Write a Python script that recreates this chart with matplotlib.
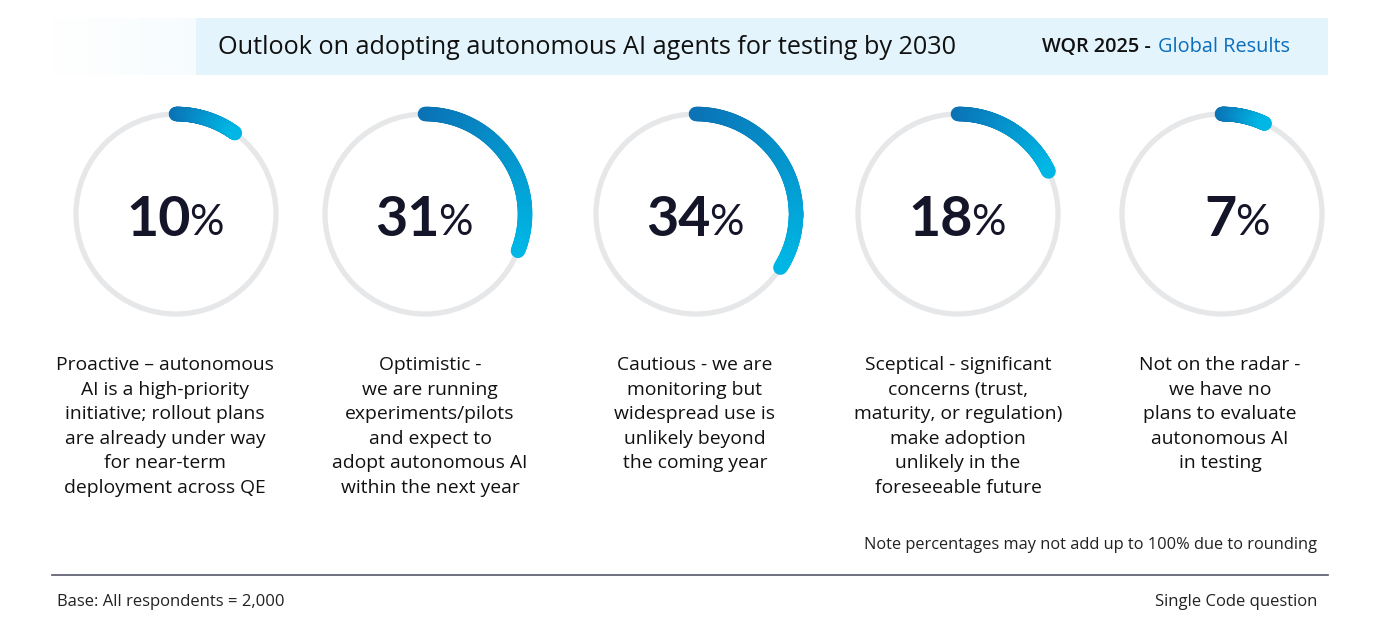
import matplotlib
matplotlib.use("Agg")
import matplotlib.pyplot as plt
import numpy as np
from matplotlib.collections import LineCollection
from matplotlib.colors import LinearSegmentedColormap
from matplotlib.patches import Circle, Rectangle

W, H = 1392, 633

VALUES = [10, 31, 34, 18, 7]
LABELS = [
    "Proactive \u2013 autonomous\nAI is a high-priority\ninitiative; rollout plans\nare already under way\nfor near-term\ndeployment across QE",
    "Optimistic -\nwe are running\nexperiments/pilots\nand expect to\nadopt autonomous AI\nwithin the next year",
    "Cautious - we are\nmonitoring but\nwidespread use is\nunlikely beyond\nthe coming year",
    "Sceptical - significant\nconcerns (trust,\nmaturity, or regulation)\nmake adoption\nunlikely in the\nforeseeable future",
    "Not on the radar -\nwe have no\nplans to evaluate\nautonomous AI\nin testing",
]
TITLE = "Outlook on adopting autonomous AI agents for testing by 2030"
NOTE = "Note percentages may not add up to 100% due to rounding"
BASE_TXT = "Base: All respondents = 2,000"
QTYPE = "Single Code question"

CX = [176, 425, 696, 958, 1222]   # ring centres, px
CY = 214
R = 100
TEXT_X = [165, 430, 695, 958, 1220]

grad = LinearSegmentedColormap.from_list("arc", ["#0a72b5", "#00b6e4"])
FONT = ["Open Sans", "DejaVu Sans"]

fig = plt.figure(figsize=(W / 100, H / 100), dpi=100)
ax = fig.add_axes([0, 0, 1, 1])
ax.set_xlim(0, W)
ax.set_ylim(H, 0)
ax.axis("off")

# header band, with the faint faded strip on its left
fade = np.zeros((1, 100, 4))
fade[..., :3] = matplotlib.colors.to_rgb("#e3f4fc")
fade[..., 3] = np.linspace(0.0, 0.3, 100)
ax.imshow(fade, extent=(50, 196, 75, 18), aspect="auto", zorder=0,
          interpolation="bilinear")
ax.add_patch(Rectangle((196, 18), 1132, 57, fc="#e3f4fc", ec="none", zorder=0))
ax.text(218, 47, TITLE, fontsize=18.2, family=FONT, va="center", ha="left",
        color="#111111", fontweight="medium")
ax.text(1158, 47, "Global Results", fontsize=14.3, family=FONT, va="center",
        ha="left", color="#0a6ebd")
ax.text(1156, 47, "WQR 2025 - ", fontsize=14.3, family=FONT, va="center",
        ha="right", color="#111111", fontweight="semibold")

for cx, v, lbl, tx in zip(CX, VALUES, LABELS, TEXT_X):
    ax.add_patch(Circle((cx, CY), R, fill=False, ec="#e6e7e9", lw=3.8, zorder=1))
    th = np.linspace(0, 2 * np.pi * v / 100, 120)
    xs = cx + R * np.sin(th)
    ys = CY - R * np.cos(th)
    pts = np.column_stack([xs, ys]).reshape(-1, 1, 2)
    segs = np.concatenate([pts[:-1], pts[1:]], axis=1)
    lc = LineCollection(segs, colors=grad(np.linspace(0, 1, len(segs))),
                        linewidths=10.5, capstyle="round", zorder=2)
    ax.add_collection(lc)

    ax.text(cx + 15, CY + 6, f"{v}", fontsize=40, family=["Lato", "DejaVu Sans"],
            fontweight="bold", ha="right", va="center", color="#15152a")
    ax.text(cx + 13, CY + 9, "%", fontsize=31, family=["Lato", "DejaVu Sans"],
            ha="left", va="center", color="#15152a")

    ax.text(tx, 356, lbl, fontsize=13.9, family=FONT, ha="center", va="top",
            color="#111111", linespacing=1.47)

ax.text(1317, 545, NOTE, fontsize=11.8, family=FONT, ha="right", va="center",
        color="#222222")
ax.plot([52, 1328], [575, 575], color="#55566a", lw=1.2)
ax.text(57, 602, BASE_TXT, fontsize=12, family=FONT, ha="left", va="center",
        color="#222222")
ax.text(1317, 602, QTYPE, fontsize=12, family=FONT, ha="right", va="center",
        color="#222222")

fig.savefig("out.png", dpi=100)
